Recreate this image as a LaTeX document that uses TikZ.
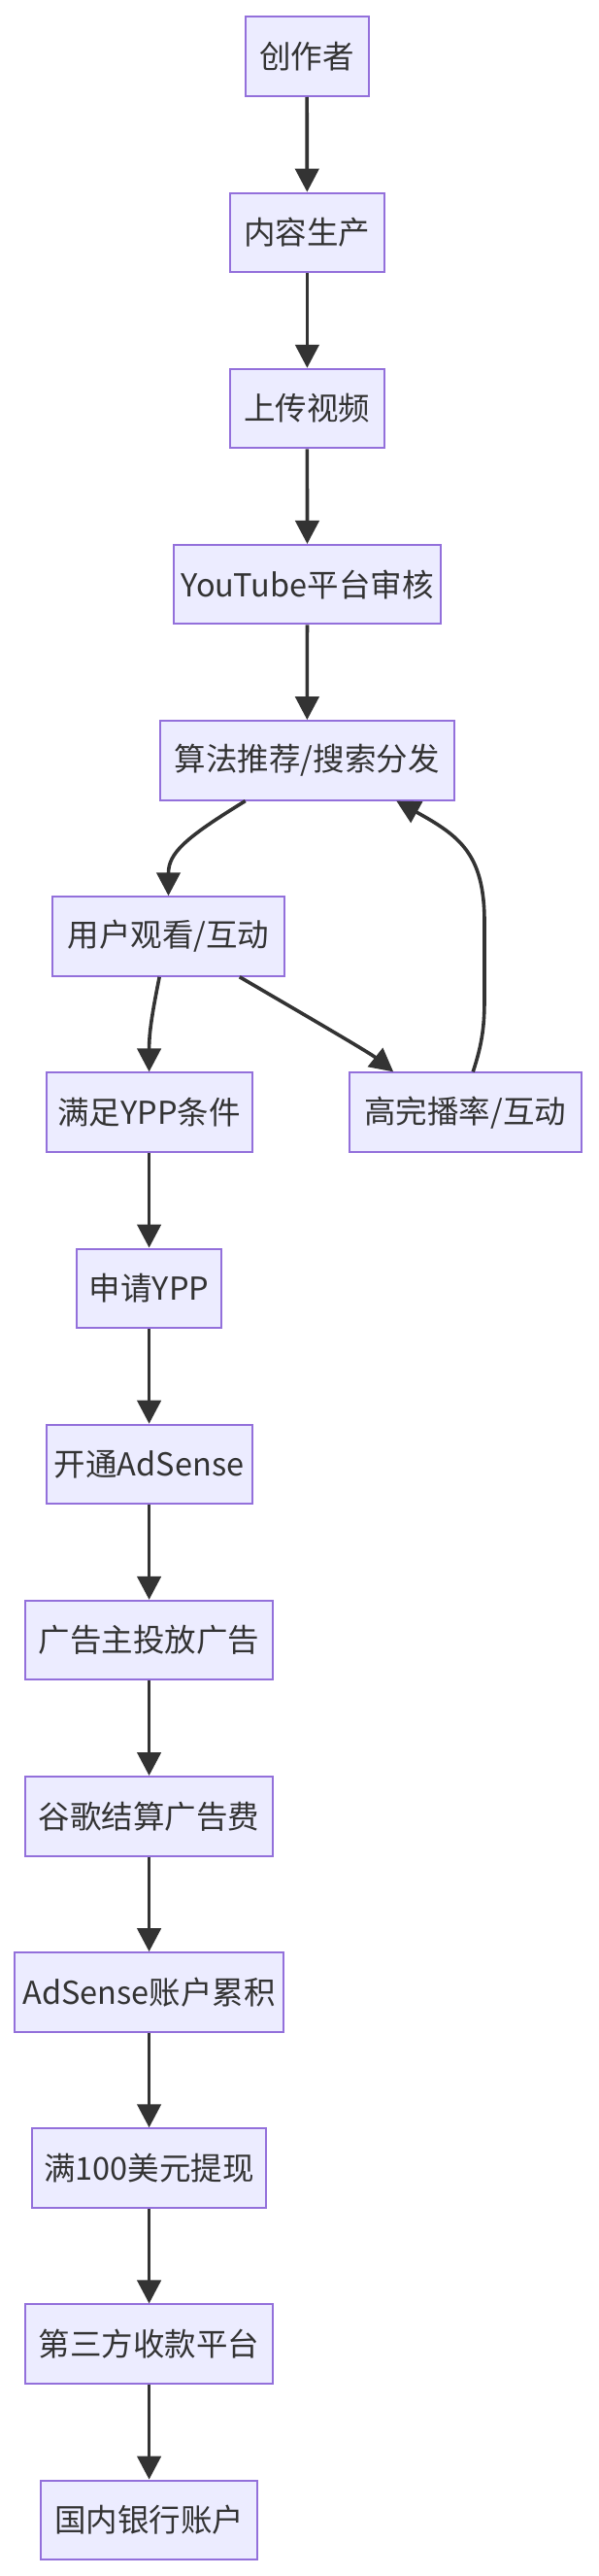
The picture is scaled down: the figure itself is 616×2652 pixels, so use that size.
\documentclass[tikz,border=0pt]{standalone}
\usepackage{fontspec}
\setmainfont{Noto Sans CJK SC}
\usetikzlibrary{arrows.meta,calc}
\definecolor{nodefill}{HTML}{ECECFF}
\definecolor{nodeline}{HTML}{9370DB}
\definecolor{edgecol}{HTML}{333333}
\begin{document}
\begin{tikzpicture}[x=1pt,y=-1pt,
  box/.style={draw=nodeline, fill=nodefill, line width=2pt, minimum height=81.5pt,
    inner sep=0pt, text=edgecol, font=\fontsize{32.5}{38}\selectfont},
  flow/.style={draw=edgecol, line width=3.6pt, -{Triangle[width=24.3pt,length=24pt]}}]
\useasboundingbox (0,0) rectangle (616,2652);
\fill[white] (0,0) rectangle (616,2652);

\node[box, minimum width=127pt]   (n0) at (316.1,58.25)  {创作者};
\node[box, minimum width=158.7pt] (n1) at (316.4,239.4)  {内容生产};
\node[box, minimum width=158.7pt] (n2) at (316.4,420.55) {上传视频};
\node[box, minimum width=275.4pt] (n3) at (316.5,601.7)  {YouTube平台审核};
\node[box, minimum width=303.4pt] (n4) at (316.3,782.85) {算法推荐/搜索分发};
\node[box, minimum width=239.3pt] (n5) at (173.5,964.0)  {用户观看/互动};
\node[box, minimum width=212.2pt] (n6) at (153.6,1145.15) {满足YPP条件};
\node[box, minimum width=239.3pt] (h)  at (479.2,1145.15) {高完播率/互动};
\node[box, minimum width=148.5pt] (n7) at (153.6,1326.3) {申请YPP};
\node[box, minimum width=212.2pt] (n8) at (153.6,1507.45) {开通AdSense};
\node[box, minimum width=255pt]   (n9) at (153.6,1688.6) {广告主投放广告};
\node[box, minimum width=255pt]   (n10) at (153.6,1869.75) {谷歌结算广告费};
\node[box, minimum width=276.7pt] (n11) at (153.6,2050.9) {AdSense账户累积};
\node[box, minimum width=241.7pt] (n12) at (153.6,2232.05) {满100美元提现};
\node[box, minimum width=255pt]   (n13) at (153.6,2413.2) {第三方收款平台};
\node[box, minimum width=223.2pt] (n14) at (153.6,2594.35) {国内银行账户};

\draw[flow] (n0) -- (n1);
\draw[flow] (n1) -- (n2);
\draw[flow] (n2) -- (n3);
\draw[flow] (n3) -- (n4);
\draw[flow] ([xshift=-63.6pt]n4.south) .. controls +(-62,38) and +(0,-44) .. (n5.north);
\draw[flow] ([xshift=-9.3pt]n5.south) .. controls +(-8,40) and +(0,-40) .. (n6.north);
\draw[flow] ([xshift=73.3pt]n5.south) .. controls +(53,31) and +(-25,-20) .. ([xshift=-74pt]h.north);
\draw[flow] ([xshift=8pt]h.north) .. controls +(10,-30) and +(0,25) .. ($(h.north)+(19.8,-74.4)$)
  -- ($(h.north)+(19.8,-154.4)$) .. controls +(0,-70) and +(65,36) .. ([xshift=92pt]n4.south);
\draw[flow] (n6) -- (n7);
\draw[flow] (n7) -- (n8);
\draw[flow] (n8) -- (n9);
\draw[flow] (n9) -- (n10);
\draw[flow] (n10) -- (n11);
\draw[flow] (n11) -- (n12);
\draw[flow] (n12) -- (n13);
\draw[flow] (n13) -- (n14);
\end{tikzpicture}
\end{document}
